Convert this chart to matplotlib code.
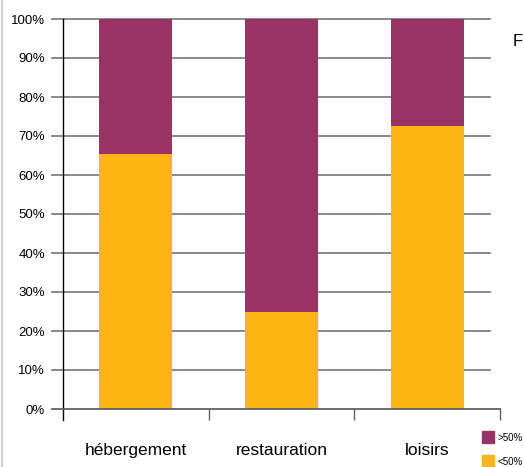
import numpy as np
import matplotlib.pyplot as plt
from matplotlib.patches import Rectangle
from matplotlib.lines import Line2D

# Share of companies per sector (percent)
categories = ['hébergement', 'restauration', 'loisirs']
below_50 = np.array([65.5, 25.0, 72.5])
above_50 = 100 - below_50
yticks = np.arange(0, 101, 10)

c_low = '#fdb515'
c_high = '#993366'

plt.rcParams['font.family'] = ['Liberation Sans', 'DejaVu Sans']

fig = plt.figure(figsize=(5.24, 4.67), dpi=100)
W, H = 524, 467
ax = fig.add_axes([63 / W, 1 - 409 / H, (500 - 63) / W, (409 - 19) / H])

x = np.arange(len(categories)) + 0.5
ax.bar(x, below_50, width=0.5, color=c_low, zorder=3)
ax.bar(x, above_50, width=0.5, bottom=below_50, color=c_high, zorder=3)

ax.set_xlim(0, 3)
ax.set_ylim(0, 100)

# Gridlines stop a little short of the right end
trans = ax.get_yaxis_transform()
for v in yticks[1:]:
    ax.plot([-11 / 437, 427 / 437], [v, v], color='#808080', lw=1.3,
            transform=trans, clip_on=False, zorder=1)
# category axis
ax.plot([-11 / 437, 1], [0, 0], color='#606060', lw=1.3,
        transform=trans, clip_on=False, zorder=4)

for s in ['top', 'right']:
    ax.spines[s].set_visible(False)
ax.spines['bottom'].set_visible(False)
ax.spines['left'].set_color('black')
ax.spines['left'].set_linewidth(1.0)
ax.spines['left'].set_bounds(-2.8, 100)

ax.set_yticks(yticks)
ax.set_yticklabels([f'{v}%' for v in yticks], fontsize=9.5)
ax.tick_params(axis='y', length=0, pad=13)

ax.set_xticks([1, 2, 3])
ax.set_xticklabels([])
ax.tick_params(axis='x', length=8, width=1.0, color='#606060')
for xi, lab in zip(x, categories):
    ax.text(xi, -10.7, lab, ha='center', va='center', fontsize=12.5)

# Gray left border
fig.add_artist(Line2D([2 / W, 2 / W], [0, 1], color='#d0d0d0', lw=1.5))

# Clipped title (only descenders visible) and side text
fig.text(106 / W, 1 + 4.5 / H, 'Typologie par secteur', color='#b0138a', fontsize=14,
         fontweight='bold', va='baseline')
fig.text(513 / W, 1 - 42 / H, 'F', fontsize=12, va='center')

# Legend
for i, (col, lab) in enumerate([(c_high, '>50%'), (c_low, '<50%')]):
    y0 = 431 + 24 * i
    fig.add_artist(Rectangle((482 / W, 1 - (y0 + 12) / H), 12 / W, 12 / H,
                             color=col, transform=fig.transFigure))
    fig.text(498 / W, 1 - (y0 + 7) / H, lab, fontsize=7, va='center')

fig.savefig('out.png', dpi=100)
